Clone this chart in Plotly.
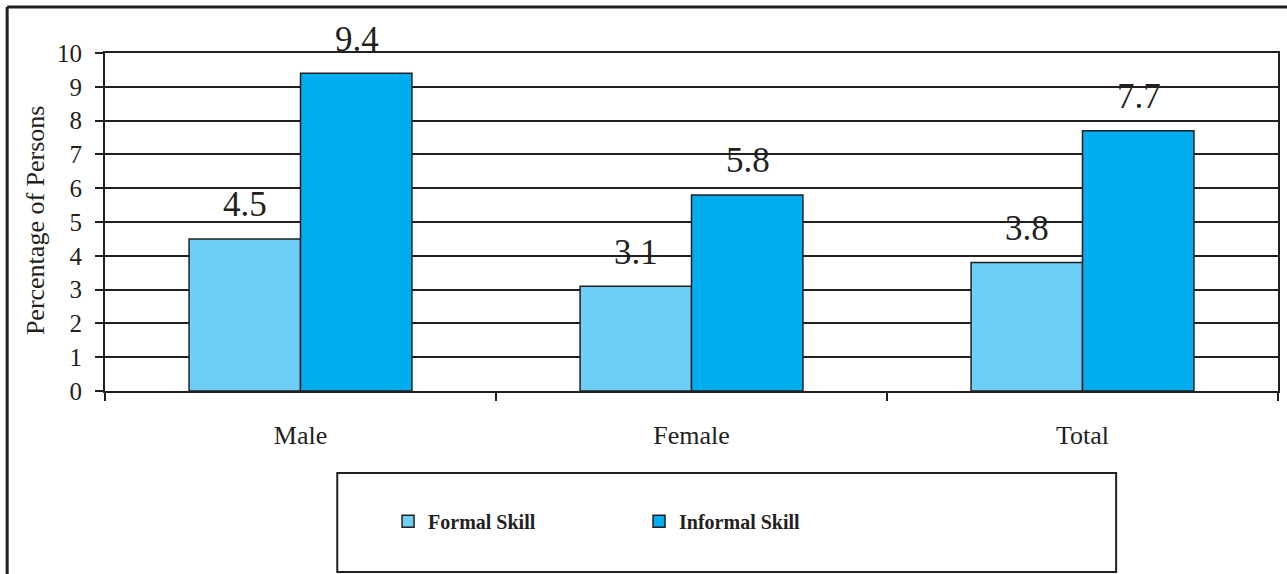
import plotly.graph_objects as go

# Share of persons with vocational skills, by sex
categories = ["Male", "Female", "Total"]
formal_skill = [4.5, 3.1, 3.8]
informal_skill = [9.4, 5.8, 7.7]
y_ticks = [0, 1, 2, 3, 4, 5, 6, 7, 8, 9, 10]

INK = "#231F20"
SERIF = "Liberation Serif"

fig = go.Figure()
fig.add_trace(go.Bar(
    name="Formal Skill", x=categories, y=formal_skill,
    marker=dict(color="#6DCFF6", line=dict(color=INK, width=1.5)),
))
fig.add_trace(go.Bar(
    name="Informal Skill", x=categories, y=informal_skill,
    marker=dict(color="#00AEEF", line=dict(color=INK, width=1.5)),
))

# value labels above each bar
annotations = []
for i, cat in enumerate(categories):
    for vals, off in ((formal_skill, -0.5), (informal_skill, 0.5)):
        annotations.append(dict(
            x=cat, y=vals[i], xref="x", yref="y", text=f"{vals[i]:.1f}",
            showarrow=False, yanchor="middle", yshift=34,
            xshift=off * 112,
            font=dict(family=SERIF, size=35, color=INK),
        ))

# y-axis title
annotations.append(dict(
    x=-0.0587, y=0.506, xref="paper", yref="paper", text="Percentage of Persons",
    showarrow=False, textangle=-90, xanchor="center", yanchor="middle",
    font=dict(family=SERIF, size=26, color=INK),
))

shapes = [
    # legend frame
    dict(type="rect", xref="paper", yref="paper",
         x0=0.198, x1=0.862, y0=-0.5355, y1=-0.2426,
         line=dict(color=INK, width=2), fillcolor="rgba(0,0,0,0)"),
    # outer frame (top and left edges)
    dict(type="line", xref="paper", yref="paper",
         x0=-0.0834, x1=1.01, y0=1.136, y1=1.136, line=dict(color=INK, width=3)),
    dict(type="line", xref="paper", yref="paper",
         x0=-0.0834, x1=-0.0834, y0=1.136, y1=-0.57, line=dict(color=INK, width=3)),
]

fig.update_layout(
    width=1287, height=574,
    margin=dict(l=105, r=7, t=53, b=183),
    paper_bgcolor="white", plot_bgcolor="white",
    barmode="group", bargap=0.43, bargroupgap=0,
    font=dict(family=SERIF, color=INK),
    showlegend=True,
    legend=dict(
        orientation="h", x=0.2413, y=-0.385, xanchor="left", yanchor="middle",
        entrywidth=206, entrywidthmode="pixels",
        font=dict(family=SERIF, size=20, color=INK, weight="bold"),
        bgcolor="rgba(0,0,0,0)", borderwidth=0,
        itemwidth=30, tracegroupgap=0,
    ),
    annotations=annotations,
    shapes=shapes,
)

fig.update_xaxes(
    type="category", showline=True, linecolor=INK, linewidth=2, mirror=True,
    ticks="outside", tickson="boundaries", ticklen=8, tickcolor=INK, tickwidth=2,
    tickfont=dict(family=SERIF, size=26, color=INK),
    ticklabelstandoff=20,
    showgrid=False,
)
fig.update_yaxes(
    range=[0, 10], tickvals=y_ticks, showline=True, linecolor=INK, linewidth=2,
    mirror=True, ticks="outside", ticklen=8, tickcolor=INK, tickwidth=2,
    tickfont=dict(family=SERIF, size=25, color=INK),
    ticklabelstandoff=8,
    showgrid=True, gridcolor=INK, gridwidth=1.5, zeroline=False,
)

fig.write_html("out.html")
